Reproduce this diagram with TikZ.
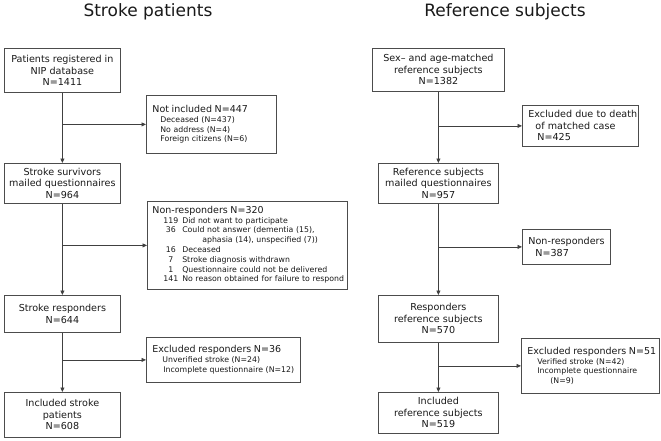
\documentclass[tikz,border=0pt]{standalone}
\usepackage{fontspec}
\setmainfont{DejaVu Sans}
\usetikzlibrary{arrows.meta}
\tikzset{
  box/.style={draw=black!70, line width=0.8pt, anchor=north west, inner sep=0pt, align=center,
    font=\fontsize{9.6}{11.5}\selectfont, text=black!90},
  side/.style={box, align=left, inner xsep=6pt, font=\fontsize{7.8}{9.8}\selectfont},
  conn/.style={draw=black!75, line width=0.8pt},
  arr/.style={conn, -{Triangle[length=4.5pt,width=4pt]}},
  ttl/.style={font=\fontsize{17}{20}\selectfont, anchor=base, inner sep=0pt, text=black!90}
}
\newcommand{\hd}[1]{\mbox{\fontsize{9.5}{11}\selectfont #1}}
\newcommand{\ml}[1]{\mbox{#1}}
\begin{document}
\begin{tikzpicture}[x=1pt,y=-1pt]
\useasboundingbox (0,0) rectangle (661,440);
% titles
\node[ttl] (t1) at (148,16) {Stroke patients};
\node[ttl] (t2) at (505,16) {Reference subjects};
% left column
\node[box, minimum width=116pt, minimum height=44pt] (L1) at (4,48) {Patients registered in\\NIP database\\N=1411};
\node[box, minimum width=116pt, minimum height=40pt] (L3) at (4,163) {Stroke survivors\\mailed questionnaires\\N=964};
\node[box, minimum width=116pt, minimum height=37pt] (L5) at (4,295) {Stroke responders\\N=644};
\node[box, minimum width=116pt, minimum height=45pt] (L7) at (4,392) {Included stroke\\patients\\N=608};
% left side boxes
\node[side, minimum width=130pt, minimum height=58pt, text width=118pt] (L2) at (146,95)
  {\hd{Not included N=447}\\
   \hspace*{8pt}\ml{Deceased (N=437)}\\
   \hspace*{8pt}\ml{No address (N=4)}\\
   \hspace*{8pt}\ml{Foreign citizens (N=6)}};
\node[side, minimum width=200pt, minimum height=88pt, inner xsep=5pt, text width=190pt] (L4) at (147,201)
  {\hd{Non-responders N=320}\\
   \hspace*{11pt}\begin{tabular}{@{}c@{\hspace{4pt}}l@{}}
   119 & Did not want to participate\\
   36 & Could not answer (dementia (15),\\
      & \hspace*{20pt}aphasia (14), unspecified (7))\\
   16 & Deceased\\
   7 & Stroke diagnosis withdrawn\\
   1 & Questionnaire could not be delivered\\
   141 & No reason obtained for failure to respond
   \end{tabular}};
\node[side, minimum width=154pt, minimum height=45pt, text width=142pt] (L6) at (146,337)
  {\hd{Excluded responders N=36}\\
   \hspace*{10pt}\ml{Unverified stroke (N=24)}\\
   \hspace*{11pt}\ml{Incomplete questionnaire (N=12)}};
% right column
\node[box, minimum width=132pt, minimum height=43pt] (R1) at (372,48) {Sex-- and age-matched\\reference subjects\\N=1382};
\node[box, minimum width=120pt, minimum height=40pt] (R3) at (378,163) {Reference subjects\\mailed questionnaires\\N=957};
\node[box, minimum width=120pt, minimum height=47pt] (R5) at (378,295) {Responders\\reference subjects\\N=570};
\node[box, minimum width=120pt, minimum height=41pt] (R7) at (378,392) {Included\\reference subjects\\N=519};
% right side boxes
\node[box, align=left, inner xsep=6pt, minimum width=116pt, minimum height=41pt, text width=104pt] (R2) at (522,105)
  {\ml{Excluded due to death}\\\hspace*{7pt}\ml{of matched case}\\\hspace*{9pt}\ml{N=425}};
\node[box, align=left, inner xsep=6pt, minimum width=88pt, minimum height=35pt, text width=76pt] (R4) at (522,229)
  {\ml{Non-responders}\\\hspace*{7pt}\ml{N=387}};
\node[side, minimum width=138pt, minimum height=55pt, inner xsep=6pt, text width=126pt] (R6) at (521,338)
  {\hd{Excluded responders N=51}\\
   \hspace*{10pt}\ml{Verified stroke (N=42)}\\
   \hspace*{10pt}\ml{Incomplete questionnaire}\\
   \hspace*{23pt}\ml{(N=9)}};
% connectors left
\draw[arr] (L1.south) -- (L3.north);
\draw[arr] (L1.south |- L2.west) -- (L2.west);
\draw[arr] (L3.south) -- (L5.north);
\draw[arr] (L3.south |- L4.west) -- (L4.west);
\draw[arr] (L5.south) -- (L7.north);
\draw[arr] (L5.south |- L6.west) -- (L6.west);
% connectors right
\draw[arr] (R1.south) -- (R3.north);
\draw[arr] (R1.south |- R2.west) -- (R2.west);
\draw[arr] (R3.south) -- (R5.north);
\draw[arr] (R3.south |- R4.west) -- (R4.west);
\draw[arr] (R5.south) -- (R7.north);
\draw[arr] (R5.south |- R6.west) -- (R6.west);
\end{tikzpicture}
\end{document}
